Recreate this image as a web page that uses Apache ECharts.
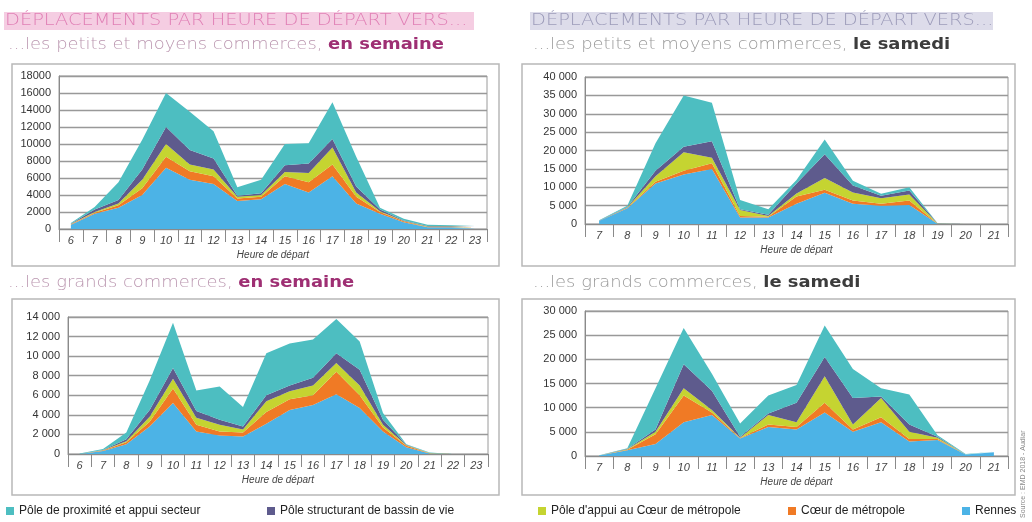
<!DOCTYPE html>
<html><head><meta charset="utf-8">
<script src="https://cdn.jsdelivr.net/npm/echarts@6/dist/echarts.min.js"></script>
<style>html,body{margin:0;padding:0;background:#fff}#c{width:1032px;height:522px}</style>
</head><body><div id="c"></div>
<script>
// ---- categories ----
const hoursWeek = ['6','7','8','9','10','11','12','13','14','15','16','17','18','19','20','21','22','23'];
const hoursSat = ['7','8','9','10','11','12','13','14','15','16','17','18','19','20','21'];
const seriesNames = ['Pôle de proximité et appui secteur','Pôle structurant de bassin de vie',"Pôle d'appui au Cœur de métropole",'Cœur de métropole','Rennes'];

// ---- petits et moyens commerces, en semaine ----
const pmcSemRennes = [500,1800,2500,4000,7200,5800,5300,3300,3500,5300,4300,6200,3000,1800,800,200,200,100];
const pmcSemCoeur  = [50,100,300,800,1300,1000,900,300,300,900,1200,1400,800,200,100,50,50,50];
const pmcSemAppui  = [30,100,200,1000,1500,800,800,200,200,500,1100,2000,500,100,50,50,50,50];
const pmcSemStruct = [40,300,400,1200,2000,1700,1300,100,200,800,1100,1000,700,200,50,50,50,50];
const pmcSemProx   = [80,300,2100,3500,4000,4500,3200,1000,1600,2500,2400,4300,3500,200,200,150,100,100];

// ---- petits et moyens commerces, le samedi ----
const pmcSamRennes = [800,4300,11000,13500,15000,1800,1800,5500,8500,5500,5000,5200,100,0,0];
const pmcSamCoeur  = [0,100,500,1000,1500,400,200,2000,800,900,500,1200,0,0,0];
const pmcSamAppui  = [50,100,1500,5000,1500,1600,200,800,3200,2200,1500,1600,50,0,0];
const pmcSamStruct = [50,100,1500,1500,4500,200,300,2700,6500,1900,700,1100,50,0,0];
const pmcSamProx   = [100,400,7500,14000,10500,2500,1500,1000,4000,1300,500,900,0,0,0];

// ---- grands commerces, en semaine ----
const gcSemRennes = [0,300,1000,2800,5200,2300,1900,1800,3100,4500,5000,6100,4700,2300,700,50,0,0];
const gcSemCoeur  = [0,50,200,500,1500,700,400,400,1200,1100,1000,2300,1300,400,150,30,0,0];
const gcSemAppui  = [0,30,100,500,1000,700,700,300,1100,800,1000,900,1000,300,50,10,0,0];
const gcSemStruct = [0,20,200,700,1100,700,500,300,600,600,800,1000,1600,500,50,10,0,0];
const gcSemProx   = [50,100,700,3000,4600,2100,3400,2000,4300,4300,3900,3500,2900,700,50,50,0,0];

// ---- grands commerces, le samedi ----
const gcSamRennes = [100,1200,2500,7000,8500,3600,6000,5500,9000,5000,7000,3000,3300,300,800];
const gcSamCoeur  = [0,100,2000,5500,500,100,500,500,2000,500,1000,500,200,0,0];
const gcSamAppui  = [0,100,500,1500,500,100,2000,1000,5500,1000,4000,1500,300,0,0];
const gcSamStruct = [0,100,500,5000,4000,200,300,4000,4000,5500,300,1500,200,0,0];
const gcSamProx   = [50,100,8500,7500,3500,2700,3700,3700,6500,6000,1700,6200,300,100,100];

// ---- axis settings ----
const yMaxes = [18000, 40000, 14000, 30000];
const yIntervals = [2000, 5000, 2000, 5000];

const colors = {
  'Pôle de proximité et appui secteur':'#4DBEC1',
  'Pôle structurant de bassin de vie':'#5E5B8D',
  "Pôle d'appui au Cœur de métropole":'#C5D431',
  'Cœur de métropole':'#F07A25',
  'Rennes':'#4CB3E6'
};

const panels = [
  {cats: hoursWeek, data:[pmcSemRennes,pmcSemCoeur,pmcSemAppui,pmcSemStruct,pmcSemProx], grid:{left:59,top:76,width:428,height:153}, sep:false},
  {cats: hoursSat, data:[pmcSamRennes,pmcSamCoeur,pmcSamAppui,pmcSamStruct,pmcSamProx], grid:{left:585,top:77,width:423,height:147}, sep:true},
  {cats: hoursWeek, data:[gcSemRennes,gcSemCoeur,gcSemAppui,gcSemStruct,gcSemProx], grid:{left:68,top:317,width:420,height:137}, sep:true},
  {cats: hoursSat, data:[gcSamRennes,gcSamCoeur,gcSamAppui,gcSamStruct,gcSamProx], grid:{left:585,top:311,width:423,height:145}, sep:true}
];
const stackOrder = ['Rennes','Cœur de métropole',"Pôle d'appui au Cœur de métropole",'Pôle structurant de bassin de vie','Pôle de proximité et appui secteur'];

const fmtSpace = v => { const s = String(v); return s.length > 3 ? s.slice(0, s.length-3) + ' ' + s.slice(-3) : s; };
const labelFont = "'Liberation Sans', Arial, sans-serif";

const grids = [], xAxes = [], yAxes = [], series = [];
panels.forEach((p, i) => {
  grids.push(Object.assign({show:true, borderColor:'#9a9a9a', borderWidth:1, backgroundColor:'#fff'}, p.grid));
  xAxes.push({
    type:'category', gridIndex:i, data:p.cats, boundaryGap:true,
    axisLine:{lineStyle:{color:'#8a8a8a', width:1}},
    axisTick:{show:true, interval:0, length:13, lineStyle:{color:'#8a8a8a'}},
    axisLabel:{interval:0, margin:6, fontSize:11, fontStyle:'italic', color:'#444', fontFamily:labelFont},
    name:'Heure de départ', nameLocation:'middle', nameGap:21,
    nameTextStyle:{fontSize:10, fontStyle:'italic', color:'#444', fontFamily:labelFont}
  });
  yAxes.push({
    type:'value', gridIndex:i, min:0, max:yMaxes[i], interval:yIntervals[i],
    axisLine:{show:true, lineStyle:{color:'#8a8a8a'}},
    axisTick:{show:false},
    splitLine:{lineStyle:{color:'#999', width:1.3}},
    axisLabel:{fontSize:11, color:'#333', margin:8, fontFamily:labelFont,
      formatter: p.sep ? fmtSpace : (v => String(v))}
  });
  stackOrder.forEach((name, idx) => {
    series.push({
      name, type:'line', xAxisIndex:i, yAxisIndex:i, stack:'s'+i,
      data:p.data[idx], symbol:'none', smooth:false,
      lineStyle:{width:0}, areaStyle:{color:colors[name], opacity:1},
      itemStyle:{color:colors[name]}, emphasis:{disabled:true}, animation:false
    });
  });
});

const legendX = [6, 267, 538, 788, 962];
const legends = seriesNames.map((n, k) => ({
  data:[n], left:legendX[k], top:505, padding:0, icon:'rect', itemWidth:8, itemHeight:8, itemGap:5,
  textStyle:{fontSize:12, color:'#222', fontFamily:labelFont},
  selectedMode:false
}));

const titleFont = "'DejaVu Sans', sans-serif";
function titleBlock(x, y, w, bg, fg){
  return [
    {type:'rect', shape:{x:x, y:y, width:w, height:18}, style:{fill:bg}, silent:true},
    {type:'text', x:x+1, y:y+9, scaleX:1.21, style:{text:'DÉPLACEMENTS PAR HEURE DE DÉPART VERS...', font:"200 16px " + titleFont, fill:fg, verticalAlign:'middle'}, silent:true}
  ];
}
function subtitle(x, y, reg, bold, regColor, boldColor){
  return {type:'text', x:x, y:y, scaleX:1.12, silent:true, style:{
    text:'{a|' + reg + '}{b|' + bold + '}', verticalAlign:'middle',
    rich:{a:{fontSize:16, fontWeight:200, fontFamily:titleFont, color:regColor, fill:regColor},
          b:{fontSize:16, fontWeight:'bold', fontFamily:titleFont, color:boldColor, fill:boldColor}}
  }};
}
function box(x, y, w, h){
  return {type:'rect', shape:{x:x, y:y, width:w, height:h}, style:{fill:'none', stroke:'#b8b8b8', lineWidth:1.5}, silent:true, z:-1};
}

const graphics = [].concat(
  titleBlock(4, 12, 470, '#F5CDE2', '#E07FB5'),
  titleBlock(530, 12, 463, '#DDDCEA', '#9D9CBA'),
  [
    subtitle(8, 45, '...les petits et moyens commerces, ', 'en semaine', '#BB97B0', '#9E2F73'),
    subtitle(533, 45, '...les petits et moyens commerces, ', 'le samedi', '#9a9a9a', '#3c3c3c'),
    subtitle(8, 283, '...les grands commerces, ', 'en semaine', '#BB97B0', '#9E2F73'),
    subtitle(533, 283, '...les grands commerces, ', 'le samedi', '#9a9a9a', '#3c3c3c'),
    box(12, 64, 487, 202), box(522, 64, 493, 202),
    box(12, 299, 487, 196), box(522, 299, 493, 196),
    {type:'text', x:1023, y:518, rotation:Math.PI/2, silent:true,
      style:{text:'Source : EMD 2018 - Audiar', font:"7px 'Liberation Sans', sans-serif", fill:'#888', verticalAlign:'middle'}}
  ]
);

const chart = echarts.init(document.getElementById('c'), null, {renderer:'canvas'});
chart.setOption({
  animation:false,
  backgroundColor:'#fff',
  grid:grids, xAxis:xAxes, yAxis:yAxes, series:series,
  legend:legends,
  graphic:graphics
});
</script></body></html>
